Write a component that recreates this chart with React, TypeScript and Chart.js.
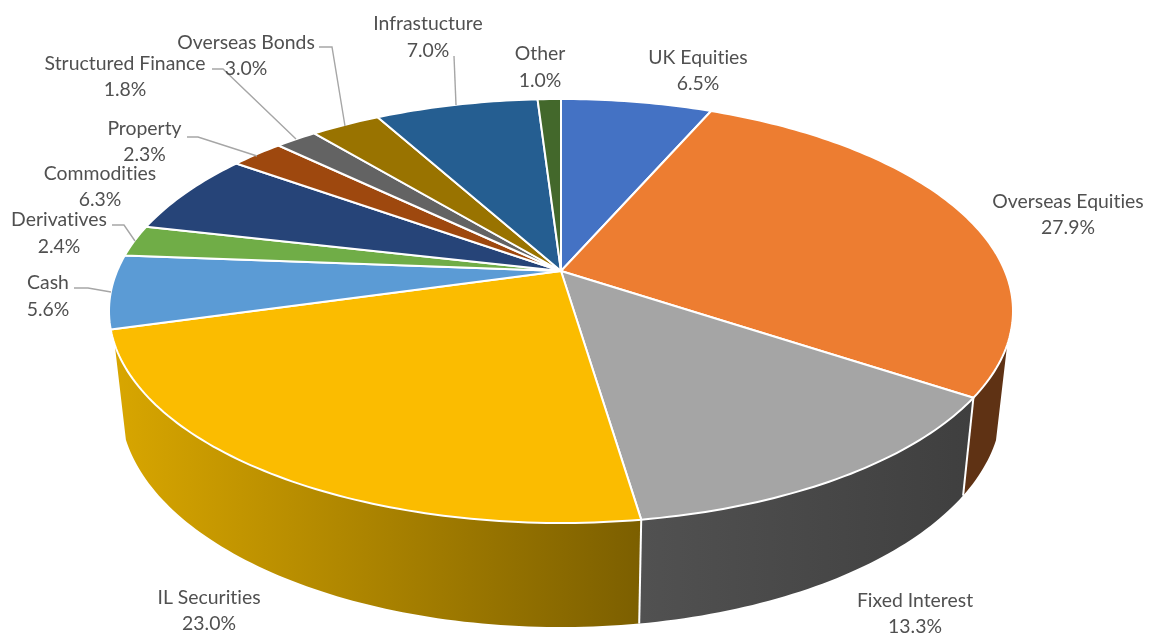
import React, { useEffect, useRef } from "react";
import { Chart, registerables } from "chart.js";

Chart.register(...registerables);

const categories = [
  "UK Equities", "Overseas Equities", "Fixed Interest", "IL Securities", "Cash", "Derivatives",
  "Commodities", "Property", "Structured Finance", "Overseas Bonds", "Infrastucture", "Other",
];
const shares = [6.5, 27.9, 13.3, 23.0, 5.6, 2.4, 6.3, 2.3, 1.8, 3.0, 7.0, 1.0];
const topColors = [
  "#4472C4", "#ED7D31", "#A5A5A5", "#FBBC00", "#5B9BD5", "#70AD47",
  "#264478", "#9E480E", "#636363", "#997300", "#255E91", "#43682B",
];
const wallLeft = [
  "#29457a", "#5f3214", "#515151", "#d8a600", "#375f80", "#446a2b",
  "#17294a", "#5f2b08", "#3c3c3c", "#5c4500", "#163958", "#283f1a",
];
const wallRight = [
  "#29457a", "#5f3214", "#3f3f3f", "#7c5f00", "#375f80", "#446a2b",
  "#17294a", "#5f2b08", "#3c3c3c", "#5c4500", "#163958", "#283f1a",
];

// label layout: centre x, first line y, second line y
const labelCentres = [
  [698, 57, 83], [1068, 201, 227], [915, 600, 626], [209, 597, 623], [48, 282, 309], [59, 219, 246],
  [100, 173, 199], [144.5, 128, 154], [125, 63, 89], [246, 42, 68], [428, 23, 50], [540, 53, 80],
];
const leaderLines: number[][][] = [
  [[74, 288], [88, 288], [111, 292]],
  [[112, 225], [124, 225], [135, 241]],
  [[187, 137], [198, 137], [257, 156]],
  [[212, 69], [223, 69], [296, 139]],
  [[319, 47], [332, 47], [345, 126]],
  [[454, 56], [456, 105]],
];

// perspective of the disc on the page
const ELLIPSE = { cx: 561, cy: 311, rx: 452, ry: 212, tilt: 40 / 212 };
const WALL_TOP_Y = 342;

function project(angle: number, frac: number) {
  const X = Math.cos(angle) * frac;
  const Y = Math.sin(angle) * frac;
  const a = ELLIPSE.tilt;
  const d = 1 - a * Y;
  return {
    x: ELLIPSE.cx + (ELLIPSE.rx * X * Math.sqrt(1 - a * a)) / d,
    y: ELLIPSE.cy + (ELLIPSE.ry * (Y - a)) / d,
  };
}
function drop(p: { x: number; y: number }) {
  return {
    x: ELLIPSE.cx + (p.x - ELLIPSE.cx) * 0.975,
    y: p.y + 95 + (p.y - 342) * 0.05,
  };
}
function rim(start: number, end: number) {
  const n = Math.max(2, Math.ceil(((end - start) * 180) / Math.PI));
  const pts = [];
  for (let i = 0; i <= n; i++) pts.push(project(start + ((end - start) * i) / n, 1));
  return pts;
}

const pie3d = {
  id: "pie3d",
  beforeDatasetsDraw(chart: any) {
    const ctx = chart.ctx;
    const arcs = chart.getDatasetMeta(0).data;
    ctx.save();
    ctx.lineJoin = "round";
    // side walls (front part of the rim only)
    arcs.forEach((arc: any, i: number) => {
      const pts = rim(arc.startAngle, arc.endAngle).filter((p) => p.y >= WALL_TOP_Y);
      if (pts.length < 2) return;
      const low = pts.map(drop).reverse();
      const xs = pts.map((p) => p.x);
      const g = ctx.createLinearGradient(Math.min(...xs), 0, Math.max(...xs), 0);
      g.addColorStop(0, wallLeft[i]);
      g.addColorStop(1, wallRight[i]);
      ctx.beginPath();
      [...pts, ...low].forEach((p, k) => (k ? ctx.lineTo(p.x, p.y) : ctx.moveTo(p.x, p.y)));
      ctx.closePath();
      ctx.fillStyle = g;
      ctx.fill();
    });
    // white seams between visible walls
    arcs.forEach((arc: any) => {
      if (Math.sin(arc.endAngle) < 0.4) return;
      const p = project(arc.endAngle, 1);
      const q = drop(p);
      ctx.beginPath();
      ctx.moveTo(p.x, p.y);
      ctx.lineTo(q.x, q.y);
      ctx.strokeStyle = "#ffffff";
      ctx.lineWidth = 2;
      ctx.stroke();
    });
    // top face
    arcs.forEach((arc: any, i: number) => {
      const c = project(arc.startAngle, 0);
      ctx.beginPath();
      ctx.moveTo(c.x, c.y);
      rim(arc.startAngle, arc.endAngle).forEach((p) => ctx.lineTo(p.x, p.y));
      ctx.closePath();
      ctx.fillStyle = topColors[i];
      ctx.fill();
      ctx.strokeStyle = "#ffffff";
      ctx.lineWidth = 2;
      ctx.stroke();
    });
    ctx.restore();
    return false;
  },
  afterDraw(chart: any) {
    const ctx = chart.ctx;
    ctx.save();
    ctx.strokeStyle = "#a6a6a6";
    ctx.lineWidth = 1.4;
    leaderLines.forEach((line) => {
      ctx.beginPath();
      line.forEach(([x, y], k) => (k ? ctx.lineTo(x, y) : ctx.moveTo(x, y)));
      ctx.stroke();
    });
    ctx.fillStyle = "#505050";
    ctx.font = '19.4px Lato, "Open Sans", sans-serif';
    (ctx as any).textRendering = "optimizeSpeed";
    ctx.textAlign = "center";
    ctx.textBaseline = "middle";
    categories.forEach((name, i) => {
      const [x, y1, y2] = labelCentres[i];
      ctx.fillText(name, x, y1 + 0.5);
      ctx.fillText(`${shares[i].toFixed(1)}%`, x, y2 + 0.5);
    });
    ctx.restore();
  },
};

export default function App() {
  const ref = useRef<HTMLCanvasElement | null>(null);
  useEffect(() => {
    document.body.style.margin = "0";
    document.body.style.background = "#ffffff";
    const chart = new Chart(ref.current as HTMLCanvasElement, {
      type: "pie",
      data: {
        labels: categories,
        datasets: [{ data: shares, backgroundColor: topColors, borderColor: "#ffffff" }],
      },
      options: {
        animation: false,
        responsive: false,
        plugins: { legend: { display: false }, title: { display: false }, tooltip: { enabled: false } },
      },
      plugins: [pie3d as any],
    });
    return () => chart.destroy();
  }, []);
  return <canvas ref={ref} width={1152} height={635} style={{ display: "block" }} />;
}
